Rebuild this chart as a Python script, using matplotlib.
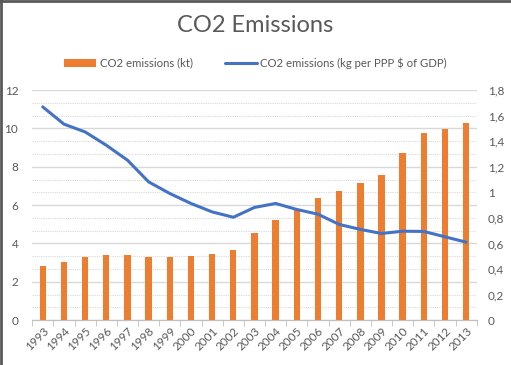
import numpy as np
import matplotlib.pyplot as plt
from matplotlib.ticker import FuncFormatter, MultipleLocator, FixedLocator

plt.rcParams['font.family'] = ['Lato', 'DejaVu Sans']

years = [str(y) for y in range(1993, 2014)]
emissions_kt = [2.83, 3.04, 3.30, 3.41, 3.41, 3.30, 3.30, 3.36, 3.46, 3.67, 4.52,
                5.23, 5.74, 6.38, 6.75, 7.16, 7.58, 8.73, 9.74, 9.98, 10.26]
emissions_gdp = [1.669, 1.534, 1.473, 1.369, 1.252, 1.082, 0.991, 0.913, 0.847, 0.805, 0.882,
                 0.913, 0.866, 0.829, 0.749, 0.710, 0.678, 0.696, 0.694, 0.652, 0.610]

orange = '#ED7D31'
blue = '#4472C4'
grey_txt = '#595959'

fig = plt.figure(figsize=(5.11, 3.65), dpi=100)
ax = fig.add_axes([0.063, 0.123, 0.87, 0.63])
ax2 = ax.twinx()
ax2.set_zorder(ax.get_zorder() + 1)

x = np.arange(len(years))
ax.bar(x, emissions_kt, width=0.3, color=orange, label='CO2 emissions (kt)', zorder=3)
ax2.plot(x, emissions_gdp, color=blue, lw=2.2, label='CO2 emissions (kg per PPP $ of GDP)',
         solid_capstyle='round', zorder=4)

ax.set_xlim(-0.5, len(years) - 0.5)
ax.set_ylim(0, 12)
ax2.set_ylim(0, 1.8)
ax.yaxis.set_major_locator(MultipleLocator(2))
ax.yaxis.set_minor_locator(FixedLocator(np.arange(0, 12.01, 2 / 3)))
ax2.yaxis.set_major_locator(MultipleLocator(0.2))
ax2.yaxis.set_major_formatter(FuncFormatter(lambda v, p: ('%g' % round(v, 1)).replace('.', ',')))

# grid lines, kept on the bar axes so they sit under the bars
ax.grid(axis='y', which='major', color='#d9d9d9', lw=1.0, zorder=0)
ax.grid(axis='y', which='minor', color='#d9d9d9', lw=0.8, ls=(0, (1, 1)), zorder=0)
ax.set_axisbelow(True)

ax.set_xticks(x)
ax.set_xticklabels(years, rotation=45, ha='right', rotation_mode='anchor')
ax.set_xticks(np.arange(-0.5, len(years)), minor=True)
ax.tick_params(axis='x', which='major', length=0, labelsize=8.5, labelcolor=grey_txt, pad=4)
ax.tick_params(axis='x', which='minor', length=4, color='#bfbfbf')
ax.tick_params(axis='y', which='both', length=0, labelsize=8.5, labelcolor=grey_txt, pad=10)
ax2.tick_params(axis='y', which='both', length=0, labelsize=8.5, labelcolor=grey_txt, pad=8)

for a in (ax, ax2):
    for s in ['top', 'left', 'right']:
        a.spines[s].set_visible(False)
    a.spines['bottom'].set_color('#bfbfbf')

fig.text(0.5, 0.93, 'CO2 Emissions', ha='center', va='center', fontsize=17, color=grey_txt)

h1, l1 = ax.get_legend_handles_labels()
h2, l2 = ax2.get_legend_handles_labels()
fig.legend(h1 + h2, l1 + l2, loc='center', bbox_to_anchor=(0.5, 0.828), ncol=2, frameon=False,
           fontsize=8.2, labelcolor=grey_txt, handlelength=2.8, handletextpad=0.3, columnspacing=2.8)

# outer frame (top and left edges)
fig.add_artist(plt.Line2D([0, 1], [0.998, 0.998], color='#595959', lw=2, transform=fig.transFigure))
fig.add_artist(plt.Line2D([0.001, 0.001], [0, 1], color='#595959', lw=2, transform=fig.transFigure))

fig.savefig('out.png', dpi=100)
